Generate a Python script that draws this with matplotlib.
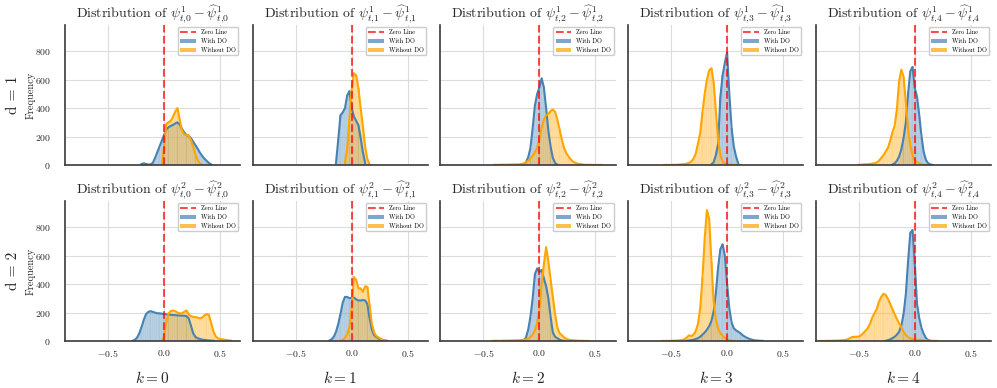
import numpy as np
import matplotlib
matplotlib.use("Agg")
import matplotlib.pyplot as plt
from matplotlib.lines import Line2D
from matplotlib.patches import Patch

plt.rcParams['font.family'] = 'serif'
plt.rcParams['font.serif'] = ['cmr10']
plt.rcParams['mathtext.fontset'] = 'cm'
plt.rcParams['axes.formatter.use_mathtext'] = True

BIN = 0.02  # histogram bin width

# counts per bin; *_start is the first bin centre
# d = 1
w_d1_k0_start = -0.20
w_d1_k0 = [8, 12, 8, 3, 5, 15, 50, 90, 130, 170, 210, 250, 265, 275, 282, 292, 300, 285, 255, 230,
           212, 205, 190, 165, 140, 115, 88, 65, 45, 30, 15, 5]
wo_d1_k0_start = -0.02
wo_d1_k0 = [5, 120, 290, 300, 310, 340, 375, 400, 320, 245, 215, 210, 210, 175, 130, 75, 35, 12, 3]

w_d1_k1_start = -0.14
w_d1_k1 = [15, 180, 350, 370, 400, 490, 520, 400, 340, 310, 280, 190, 90, 15]
wo_d1_k1_start = -0.06
wo_d1_k1 = [15, 120, 330, 530, 645, 630, 540, 400, 270, 130, 40, 5]

w_d1_k2_start = -0.14
w_d1_k2 = [5, 20, 55, 120, 260, 420, 500, 545, 610, 545, 400, 240, 130, 50, 15, 3]
wo_d1_k2_start = -0.40
wo_d1_k2 = [2, 2, 2, 3, 3, 3, 3, 4, 4, 4, 5, 5, 8, 12, 20, 30, 45, 65, 90, 120, 185, 260, 320, 350,
            360, 380, 390, 375, 320, 250, 180, 120, 85, 60, 40, 25, 16, 10, 7, 5, 3, 2, 2, 2, 1, 1,
            1, 1, 1]

w_d1_k3_start = -0.14
w_d1_k3 = [5, 20, 70, 150, 480, 630, 720, 790, 500, 260, 130, 60, 10]
wo_d1_k3_start = -0.56
wo_d1_k3 = [1, 1, 1, 1, 2, 2, 3, 4, 5, 7, 10, 15, 25, 45, 80, 150, 225, 370, 500, 600, 665, 680, 580,
            380, 180, 70, 28, 10, 5, 3, 2, 1, 1, 1, 1]

w_d1_k4_start = -0.20
w_d1_k4 = [3, 12, 30, 60, 110, 190, 300, 500, 660, 690, 540, 480, 350, 200, 90, 35, 12, 4, 1]
wo_d1_k4_start = -0.50
wo_d1_k4 = [2, 3, 4, 5, 6, 8, 10, 13, 18, 30, 50, 70, 95, 120, 170, 230, 275, 390, 590, 670, 620,
            440, 260, 140, 70, 35, 20, 12, 6, 3, 1]

# d = 2
w_d2_k0_start = -0.28
w_d2_k0 = [2, 8, 25, 55, 100, 150, 190, 205, 210, 205, 200, 195, 195, 192, 190, 188, 185, 185, 183,
           182, 180, 180, 178, 178, 175, 160, 110, 55, 30, 20, 15, 10, 8, 6, 4, 3, 2]
wo_d2_k0_start = -0.02
wo_d2_k0 = [3, 30, 130, 195, 210, 215, 210, 200, 195, 195, 205, 215, 190, 175, 170, 168, 165, 160,
            165, 180, 190, 185, 130, 70, 35, 20, 15, 12, 10, 7, 4, 2]

w_d2_k1_start = -0.20
w_d2_k1 = [3, 12, 30, 65, 120, 190, 270, 310, 310, 300, 305, 305, 292, 285, 285, 288, 285, 260, 160,
           80, 42, 28, 18, 10, 6, 3, 1]
wo_d2_k1_start = -0.10
wo_d2_k1 = [2, 8, 22, 50, 100, 230, 450, 430, 370, 370, 345, 385, 380, 250, 120, 60, 35, 25, 15, 8,
            4, 1]

w_d2_k2_start = -0.16
w_d2_k2 = [2, 6, 25, 80, 170, 300, 470, 510, 485, 500, 440, 385, 300, 170, 60, 30, 20, 10, 4, 1]
wo_d2_k2_start = -0.42
wo_d2_k2 = [1, 2, 2, 2, 2, 3, 3, 3, 4, 4, 5, 5, 6, 7, 9, 12, 18, 28, 45, 75, 130, 220, 400, 540, 660,
            560, 430, 310, 190, 95, 55, 42, 25, 15, 10, 7, 5, 4, 3, 2, 2, 1, 1, 1]

w_d2_k3_start = -0.36
w_d2_k3 = [2, 4, 6, 9, 14, 20, 30, 45, 60, 80, 105, 140, 210, 340, 520, 645, 680, 600, 400, 230, 130,
           90, 75, 65, 55, 40, 30, 22, 15, 10, 6, 4, 3, 2, 1]
wo_d2_k3_start = -0.58
wo_d2_k3 = [1, 1, 1, 1, 2, 2, 3, 4, 5, 8, 12, 25, 40, 35, 45, 70, 120, 230, 440, 720, 920, 860, 560,
            280, 150, 90, 55, 38, 22, 12, 6, 3, 1]

w_d2_k4_start = -0.26
w_d2_k4 = [2, 6, 12, 20, 30, 45, 65, 110, 190, 330, 560, 760, 780, 540, 260, 160, 90, 50, 20, 8, 2]
wo_d2_k4_start = -0.84
wo_d2_k4 = [1, 1, 1, 2, 2, 2, 3, 3, 4, 5, 6, 8, 12, 20, 28, 30, 30, 32, 40, 55, 72, 90, 120, 165, 195,
            225, 275, 310, 332, 325, 298, 262, 225, 190, 155, 125, 95, 65, 42, 28, 18, 14, 12, 10, 9,
            8, 6, 5, 4, 3, 2, 1, 1]

with_do = [[(w_d1_k0_start, w_d1_k0), (w_d1_k1_start, w_d1_k1), (w_d1_k2_start, w_d1_k2),
            (w_d1_k3_start, w_d1_k3), (w_d1_k4_start, w_d1_k4)],
           [(w_d2_k0_start, w_d2_k0), (w_d2_k1_start, w_d2_k1), (w_d2_k2_start, w_d2_k2),
            (w_d2_k3_start, w_d2_k3), (w_d2_k4_start, w_d2_k4)]]
without_do = [[(wo_d1_k0_start, wo_d1_k0), (wo_d1_k1_start, wo_d1_k1), (wo_d1_k2_start, wo_d1_k2),
               (wo_d1_k3_start, wo_d1_k3), (wo_d1_k4_start, wo_d1_k4)],
              [(wo_d2_k0_start, wo_d2_k0), (wo_d2_k1_start, wo_d2_k1), (wo_d2_k2_start, wo_d2_k2),
               (wo_d2_k3_start, wo_d2_k3), (wo_d2_k4_start, wo_d2_k4)]]

BLUE = '#4682B4'
ORANGE = '#FFA500'
TXT = '#262626'


def draw(ax, start, counts, color):
    counts = np.array(counts, dtype=float)
    centers = start + BIN * np.arange(len(counts))
    edges = np.append(centers - BIN / 2, centers[-1] + BIN / 2)
    ax.hist(centers, bins=edges, weights=counts, color=color, alpha=0.45,
            edgecolor='white', linewidth=0.3)
    ax.plot(centers, counts, color=color, lw=1.5)


fig = plt.figure(figsize=(9.97, 3.88), dpi=100)
axes = fig.subplots(2, 5, sharex=True, sharey=True)
fig.subplots_adjust(left=0.065, right=0.994, top=0.936, bottom=0.121, wspace=0.07, hspace=0.255)

for d in range(2):
    for k in range(5):
        ax = axes[d, k]
        ax.set_axisbelow(True)
        ax.grid(True, color='#dcdcdc', lw=0.8)
        draw(ax, *with_do[d][k], BLUE)
        draw(ax, *without_do[d][k], ORANGE)
        ax.axvline(0, color='red', ls='--', lw=1.5, alpha=0.7)
        ax.set_title(r'Distribution of $\psi^{%d}_{t{,}%d} - \widehat{\psi}^{%d}_{t{,}%d}$'
                     % (d + 1, k, d + 1, k), fontsize=10, color=TXT, pad=3)
        for s in ['top', 'right']:
            ax.spines[s].set_visible(False)
        for s in ['left', 'bottom']:
            ax.spines[s].set_color('#3a3a3a')
            ax.spines[s].set_linewidth(1.2)
        ax.tick_params(length=0, labelsize=7, colors=TXT)
        ax.tick_params(axis='y', pad=10)
        ax.tick_params(axis='x', pad=5)
        handles = [Line2D([0], [0], color='red', ls='--', lw=1.5, alpha=0.7),
                   Patch(facecolor=BLUE, alpha=0.7),
                   Patch(facecolor=ORANGE, alpha=0.7)]
        ax.legend(handles, ['Zero Line', 'With DO', 'Without DO'], loc='upper right',
                  fontsize=4.5, frameon=True, framealpha=1, edgecolor='#cccccc',
                  borderaxespad=0.3, handlelength=2.5)
        if k == 0:
            ax.set_ylabel('Frequency', fontsize=7.5, color=TXT)
            ax.yaxis.set_label_coords(-0.165, 0.5)

axes[0, 0].set_xlim(-0.885, 0.68)
axes[0, 0].set_ylim(0, 985)
axes[0, 0].set_xticks([-0.5, 0.0, 0.5])
axes[0, 0].set_yticks([0, 200, 400, 600, 800])

for d in range(2):
    pos = axes[d, 0].get_position()
    fig.text(0.013, (pos.y0 + pos.y1) / 2, 'd = %d' % (d + 1), rotation=90,
             fontsize=11, ha='center', va='center', color=TXT)
for k in range(5):
    pos = axes[1, k].get_position()
    fig.text((pos.x0 + pos.x1) / 2, 0.026, r'$k = %d$' % k, fontsize=11,
             ha='center', va='center', color=TXT)

fig.savefig('out.png', dpi=100)
